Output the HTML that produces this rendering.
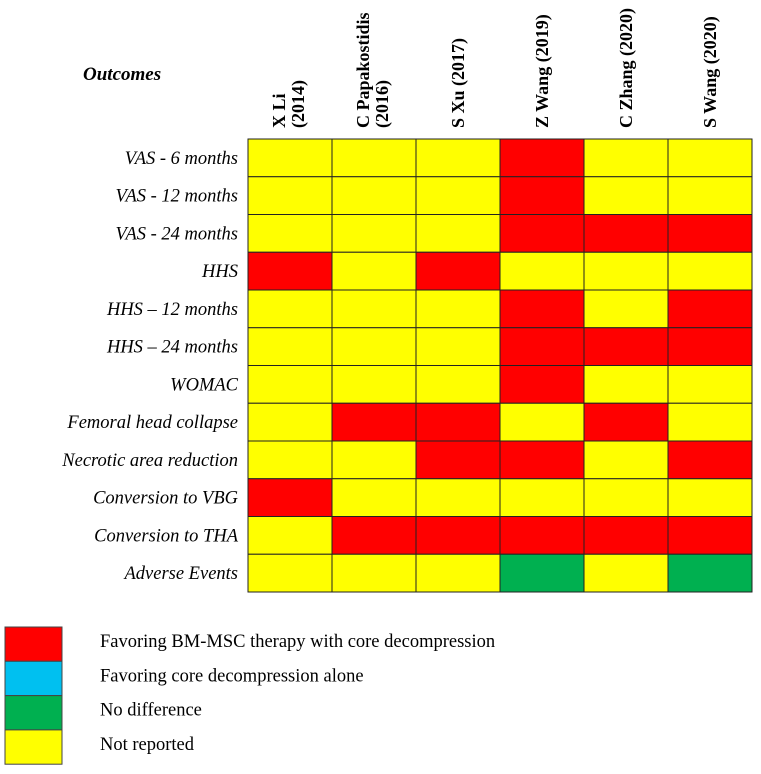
<!DOCTYPE html>
<html><head><meta charset="utf-8"><style>
body{margin:0;background:#fff;}
svg{display:block;font-family:"Liberation Serif",serif;}
</style></head><body>
<svg id="chart" width="761" height="774">
<text x="83" y="80" font-size="19" font-weight="bold" font-style="italic">Outcomes</text>
<g id="grid"></g>
<g id="legend"></g>
</svg>
<script>
const studies=[["X Li","(2014)"],["C Papakostidis","(2016)"],["S Xu (2017)"],["Z Wang (2019)"],["C Zhang (2020)"],["S Wang (2020)"]];
const outcomes=["VAS  - 6 months","VAS  - 12 months","VAS  - 24 months","HHS","HHS – 12 months","HHS – 24 months","WOMAC","Femoral head collapse","Necrotic area reduction","Conversion to VBG","Conversion to THA","Adverse Events"];
// R=favoring BM-MSC, B=favoring CD alone, G=no difference, Y=not reported
const values=[
"YYYRYY","YYYRYY","YYYRRR","RYRYYY","YYYRYR","YYYRRR",
"YYYRYY","YRRYRY","YYRRYR","RYYYYY","YRRRRR","YYYGYG"];
const legendLabels=["Favoring BM-MSC therapy with core decompression","Favoring core decompression alone","No difference","Not reported"];
const legendKeys=["R","B","G","Y"];
const colors={R:"#ff0000",B:"#00c0f0",G:"#00b050",Y:"#ffff00"};
const NS="http://www.w3.org/2000/svg";
const x0=248,cw=84,y0=139,rh=37.75;
const g=document.getElementById('grid');
function mk(t,a,p){const e=document.createElementNS(NS,t);for(const k in a)e.setAttribute(k,a[k]);p.appendChild(e);return e;}
studies.forEach((s,j)=>{
 const cx=x0+cw*j+cw/2;
 const t=mk('text',{transform:`translate(${cx},128) rotate(-90)`,'font-size':18,'font-weight':'bold'},g);
 
 
 s.forEach((line,k)=>{const ts=mk('tspan',{x:0,dy:k==0?(s.length==2?-5:6):19},t);ts.textContent=line;});
});
outcomes.forEach((o,i)=>{
 const t=mk('text',{x:238,y:y0+rh*i+rh/2+6,'text-anchor':'end','font-size':18.5,'font-style':'italic'},g);
 
 
 t.textContent=o;
 for(let j=0;j<studies.length;j++){
  const r=mk('rect',{x:x0+cw*j,y:y0+rh*i,width:cw,height:rh,fill:colors[values[i][j]],stroke:'#222','stroke-width':1},g);
  
  
 }
});
const lg=document.getElementById('legend');
legendLabels.forEach((l,i)=>{
 const y=627+i*34.3;
 const r=mk('rect',{x:5,y:y,width:57,height:34.3,fill:colors[legendKeys[i]],stroke:'#444','stroke-width':1},lg);
 
 
 const t=mk('text',{x:100,y:y+20,'font-size':18.5},lg);
 
 
 t.textContent=l;
});
</script>
</body></html>
